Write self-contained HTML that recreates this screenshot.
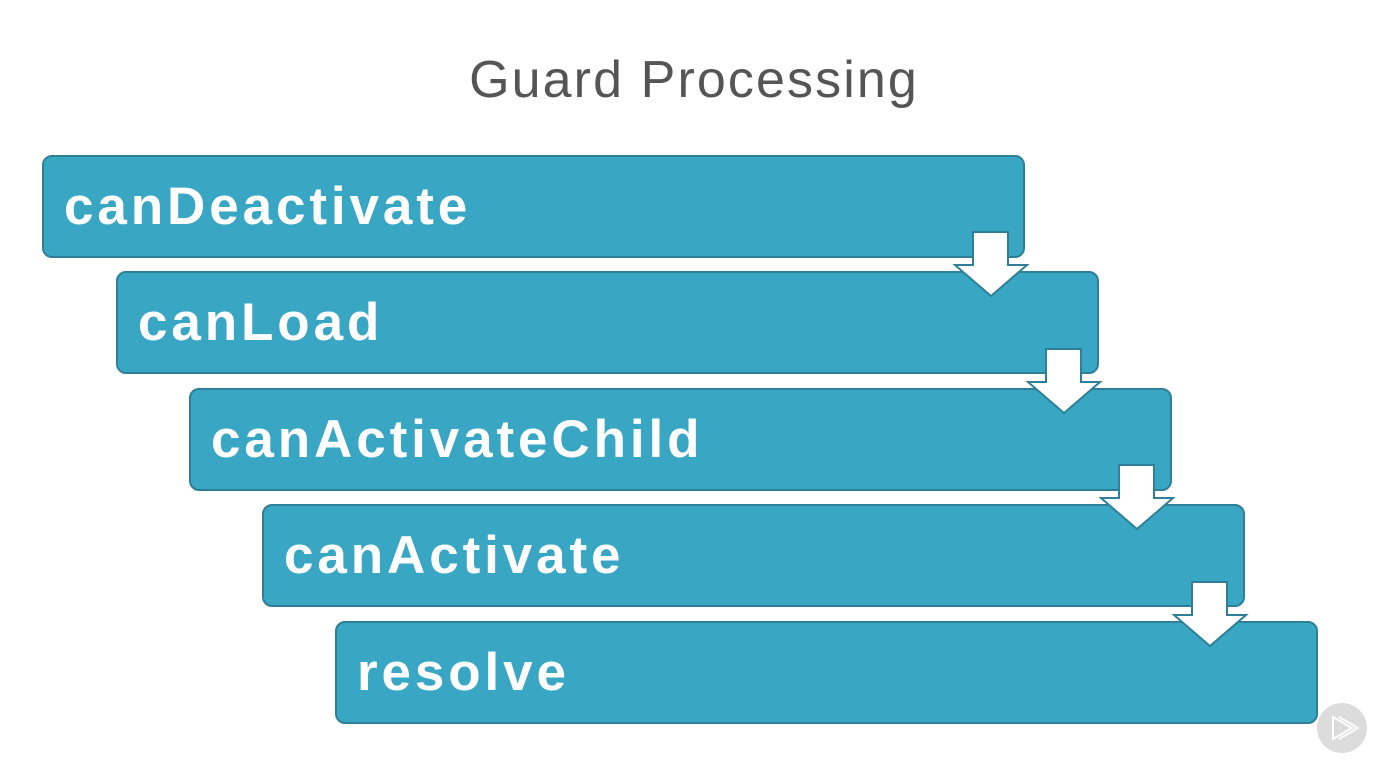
<!DOCTYPE html>
<html><head><style>
body{margin:0;width:1388px;height:772px;background:#fff;position:relative;overflow:hidden;font-family:"Liberation Sans",sans-serif}
.t{position:absolute;left:0;width:1388px;top:50px;text-align:center;font-size:52px;color:#555;letter-spacing:2.1px}
.b{position:absolute;width:979px;height:99px;background:#39a7c3;border:2px solid #2f8096;border-radius:10px;box-sizing:content-box}
.b span{position:absolute;left:20px;top:19px;font-size:53px;font-weight:bold;color:#fff;letter-spacing:3.9px;white-space:nowrap}
svg{position:absolute;left:0;top:0}
</style></head><body>
<div class="t">Guard Processing</div>
<div class="b" style="left:42px;top:155px"><span>canDeactivate</span></div>
<div class="b" style="left:116px;top:271px"><span>canLoad</span></div>
<div class="b" style="left:189px;top:388px"><span>canActivateChild</span></div>
<div class="b" style="left:262px;top:504px"><span>canActivate</span></div>
<div class="b" style="left:335px;top:621px"><span>resolve</span></div>
<svg width="1388" height="772">
<g fill="#fff" stroke="#2f8096" stroke-width="2" stroke-linejoin="miter">
<path id="a" d="M973 232 H1008 V265 H1027 L991 296 L955 265 H973 Z"/>
<use href="#a" transform="translate(73,117)"/>
<use href="#a" transform="translate(146,233)"/>
<use href="#a" transform="translate(219,350)"/>
</g>
<circle cx="1342" cy="728" r="25" fill="#dcdcdc"/>
<g fill="none" stroke="#fff" stroke-width="2"><path d="M1333 717 L1352 728 L1333 739 Z"/><path d="M1339 717 L1358 728 L1339 739"/></g>
</svg>
</body></html>
